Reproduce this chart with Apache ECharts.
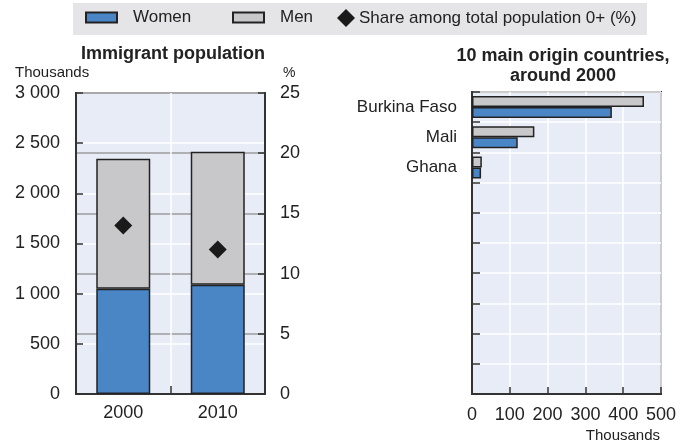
<!DOCTYPE html>
<html lang="en">
<head>
    <meta charset="UTF-8">
    <title>Immigrant population</title>
    <script src="https://cdn.jsdelivr.net/npm/echarts@6/dist/echarts.min.js"></script>
    <style type="text/css">
        html, body { margin: 0; padding: 0; background: #fff; }
        #main { width: 688px; height: 443px; }
    </style>
</head>
<body>
<div id="main"></div>
<script>
    // left panel: immigrant population (thousands) and share (%)
    var years = ['2000', '2010'];
    var women = [1050, 1090];
    var men = [1295, 1325];
    var share = [14.0, 12.0];

    // right panel: 10 main origin countries, around 2000 (thousands)
    var countries = ['Burkina Faso', 'Mali', 'Ghana'];
    var originWomen = [370, 121, 24];
    var originMen = [455, 165, 26];

    var FONT = '"Liberation Sans Narrow", "Arial Narrow", "Liberation Sans", Arial, sans-serif';
    var TXT = '#222';
    var BLUE = '#4a86c6';
    var GREY = '#c8c8ca';
    var EDGE = '#222';
    var PLOT_BG = '#e8ecf6';

    // the right panel always has 10 slots, only the first ones are named
    var slots = countries.slice();
    for (var i = countries.length; i < 10; i++) {
        slots.push('slot' + i);
    }

    function spaced(v) {
        return String(v).replace(/\B(?=(\d{3})+(?!\d))/g, ' ');
    }

    var tick = {show: true, inside: true, length: 7, lineStyle: {color: '#333', width: 1.5}};
    var line = {show: true, lineStyle: {color: '#333', width: 2}};
    var white = {show: true, lineStyle: {color: '#fff', width: 1.5}};
    var label = {color: TXT, fontFamily: FONT, fontSize: 18};
    var legendText = {fontSize: 17, color: TXT, fontFamily: FONT, padding: [0, 0, 0, 11]};

    var myEcharts = echarts.init(document.getElementById('main'));
    myEcharts.setOption({
        animation: false,
        textStyle: {fontFamily: FONT, color: TXT},
        graphic: [{
            type: 'rect', left: 73, top: 3, z: -10,
            shape: {width: 574, height: 32},
            style: {fill: '#e5e5e7'}
        }],
        legend: [
            {data: [{name: 'Women', icon: 'rect'}], left: 85, top: 9, padding: 0, itemWidth: 31, itemHeight: 10,
                selectedMode: false, textStyle: legendText},
            {data: [{name: 'Men', icon: 'rect'}], left: 232, top: 9, padding: 0, itemWidth: 31, itemHeight: 10,
                selectedMode: false, textStyle: legendText},
            {data: ['Share among total population 0+ (%)'], left: 337, top: 9, padding: 0, itemWidth: 18, itemHeight: 18,
                selectedMode: false, textStyle: {fontSize: 17, color: TXT, fontFamily: FONT, padding: [0, 0, 0, -1]}}
        ],
        title: [
            {text: 'Immigrant population', left: 173, top: 45, textAlign: 'center', padding: 0,
                textStyle: {fontFamily: FONT, fontSize: 18, fontWeight: 'bold', color: TXT}},
            {text: '10 main origin countries,\naround 2000', left: 563, top: 46, textAlign: 'center', padding: 0,
                textStyle: {fontFamily: FONT, fontSize: 18, fontWeight: 'bold', color: TXT, lineHeight: 20}},
            {text: 'Thousands', left: 15, top: 65, padding: 0,
                textStyle: {fontFamily: FONT, fontSize: 15, fontWeight: 'normal', color: TXT}},
            {text: '%', left: 283, top: 66, padding: 0,
                textStyle: {fontFamily: FONT, fontSize: 14, fontWeight: 'normal', color: TXT}},
            {text: 'Thousands', left: 660, top: 428, textAlign: 'right', padding: 0,
                textStyle: {fontFamily: FONT, fontSize: 15, fontWeight: 'normal', color: TXT}}
        ],
        grid: [
            {left: 76, top: 93, width: 189, height: 301, show: true, backgroundColor: PLOT_BG,
                borderColor: '#333', borderWidth: 2, outerBoundsMode: 'none'},
            {left: 472, top: 92, width: 189, height: 302, show: true, backgroundColor: PLOT_BG,
                borderColor: '#333', borderWidth: 2, outerBoundsMode: 'none'}
        ],
        xAxis: [
            {type: 'category', gridIndex: 0, data: years, axisLine: line,
                axisTick: {show: true, inside: true, length: 8, alignWithLabel: false, lineStyle: {color: '#333', width: 1.5}},
                axisLabel: Object.assign({margin: 10}, label),
                splitLine: white},
            {type: 'value', gridIndex: 1, min: 0, max: 500, interval: 100, axisLine: line, axisTick: tick,
                axisLabel: Object.assign({margin: 12}, label),
                splitLine: white}
        ],
        yAxis: [
            {type: 'value', gridIndex: 0, min: 0, max: 3000, interval: 500, axisLine: line, axisTick: tick,
                axisLabel: Object.assign({margin: 16, formatter: spaced}, label),
                splitLine: white},
            {type: 'value', gridIndex: 0, position: 'right', min: 0, max: 25, interval: 5, axisLine: line, axisTick: tick,
                axisLabel: Object.assign({margin: 15}, label),
                splitLine: {show: true, lineStyle: {color: '#9c9c9c', width: 1.5}}},
            {type: 'category', gridIndex: 1, data: slots, inverse: true, axisLine: line,
                axisTick: {show: true, inside: true, length: 8, alignWithLabel: false, lineStyle: {color: '#333', width: 1.5}},
                axisLabel: Object.assign({margin: 15, interval: 0, formatter: function (v) {
                    return countries.indexOf(v) >= 0 ? v : '';
                }}, label, {fontSize: 17}),
                splitLine: white}
        ],
        series: [
            {name: 'Women', type: 'bar', xAxisIndex: 0, yAxisIndex: 0, stack: 'pop', barWidth: 54, data: women,
                itemStyle: {color: BLUE, borderColor: EDGE, borderWidth: 1.5}},
            {name: 'Men', type: 'bar', xAxisIndex: 0, yAxisIndex: 0, stack: 'pop', barWidth: 54, data: men,
                itemStyle: {color: GREY, borderColor: EDGE, borderWidth: 1.5}},
            {name: 'Men', type: 'bar', xAxisIndex: 1, yAxisIndex: 2, barWidth: 11, barGap: '0%', data: originMen,
                itemStyle: {color: GREY, borderColor: EDGE, borderWidth: 1.5}},
            {name: 'Women', type: 'bar', xAxisIndex: 1, yAxisIndex: 2, barWidth: 11, barGap: '0%', data: originWomen,
                itemStyle: {color: BLUE, borderColor: EDGE, borderWidth: 1.5}},
            {name: 'Share among total population 0+ (%)', type: 'scatter', xAxisIndex: 0, yAxisIndex: 1,
                symbol: 'diamond', symbolSize: 18, data: share, z: 5,
                itemStyle: {color: '#1a1a1a', opacity: 1}}
        ]
    });
</script>
</body>
</html>
